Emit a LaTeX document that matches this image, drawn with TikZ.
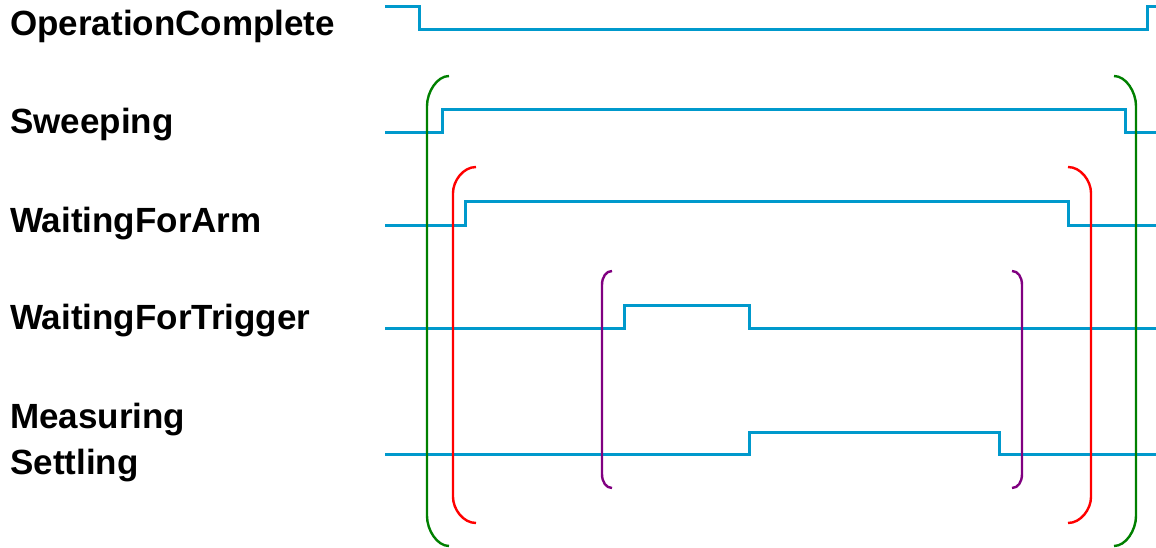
\documentclass[tikz,border=0pt]{standalone}
\usepackage{fontspec}
\setmainfont{Liberation Sans}
\usepackage{tikz}

\definecolor{sigblue}{RGB}{0,153,204}
\definecolor{brgreen}{RGB}{0,128,0}
\definecolor{brred}{RGB}{255,0,0}
\definecolor{brpurple}{RGB}{128,0,128}

\tikzset{
  signal/.style={draw=sigblue, line width=3pt},
  bracket/.style={line width=2.4pt},
  statelabel/.style={anchor=base west, inner sep=0pt, font=\bfseries\fontsize{35}{33}\selectfont}
}

\begin{document}
\begin{tikzpicture}[x=1pt, y=-1pt]
  \useasboundingbox (0,0) rectangle (1156,548);
  % State names
  \node[statelabel] (lblOpComplete) at (10,36) {OperationComplete};
  \node[statelabel] (lblSweeping) at (10,134) {Sweeping};
  \node[statelabel] (lblArm) at (10,233) {WaitingForArm};
  \node[statelabel] (lblTrigger) at (10,329) {WaitingForTrigger};
  \node[statelabel] (lblMeasuring) at (10,428) {Measuring};
  \node[statelabel] (lblSettling) at (10,474) {Settling};
  % Signal traces
  \draw[signal] (385,7) -- (419,7) -- (419,30) -- (1147,30) -- (1147,7) -- (1156,7);
  \draw[signal] (385,133) -- (442,133) -- (442,110) -- (1125,110) -- (1125,133) -- (1156,133);
  \draw[signal] (385,225) -- (465,225) -- (465,202) -- (1068,202) -- (1068,225) -- (1156,225);
  \draw[signal] (385,328) -- (624,328) -- (624,305) -- (749,305) -- (749,328) -- (1156,328);
  \draw[signal] (385,454) -- (749,454) -- (749,432) -- (999,432) -- (999,454) -- (1156,454);
  % Brackets round the nested states
  \draw[bracket, brgreen] (449,76) .. controls (437,76) and (427,92) .. (427,106) -- (427,516) .. controls (427,530) and (437,546) .. (449,546);
  \draw[bracket, brgreen] (1114,76) .. controls (1126,76) and (1136,92) .. (1136,106) -- (1136,516) .. controls (1136,530) and (1126,546) .. (1114,546);
  \draw[bracket, brred] (476,167) .. controls (463,167) and (453,181) .. (453,193) -- (453,497) .. controls (453,509) and (463,523) .. (476,523);
  \draw[bracket, brred] (1068,167) .. controls (1081,167) and (1091,181) .. (1091,193) -- (1091,497) .. controls (1091,509) and (1081,523) .. (1068,523);
  \draw[bracket, brpurple] (612,271) .. controls (606,271) and (602,277) .. (602,285) -- (602,474) .. controls (602,482) and (606,488) .. (612,488);
  \draw[bracket, brpurple] (1012,271) .. controls (1018,271) and (1022,277) .. (1022,285) -- (1022,474) .. controls (1022,482) and (1018,488) .. (1012,488);
\end{tikzpicture}
\end{document}
